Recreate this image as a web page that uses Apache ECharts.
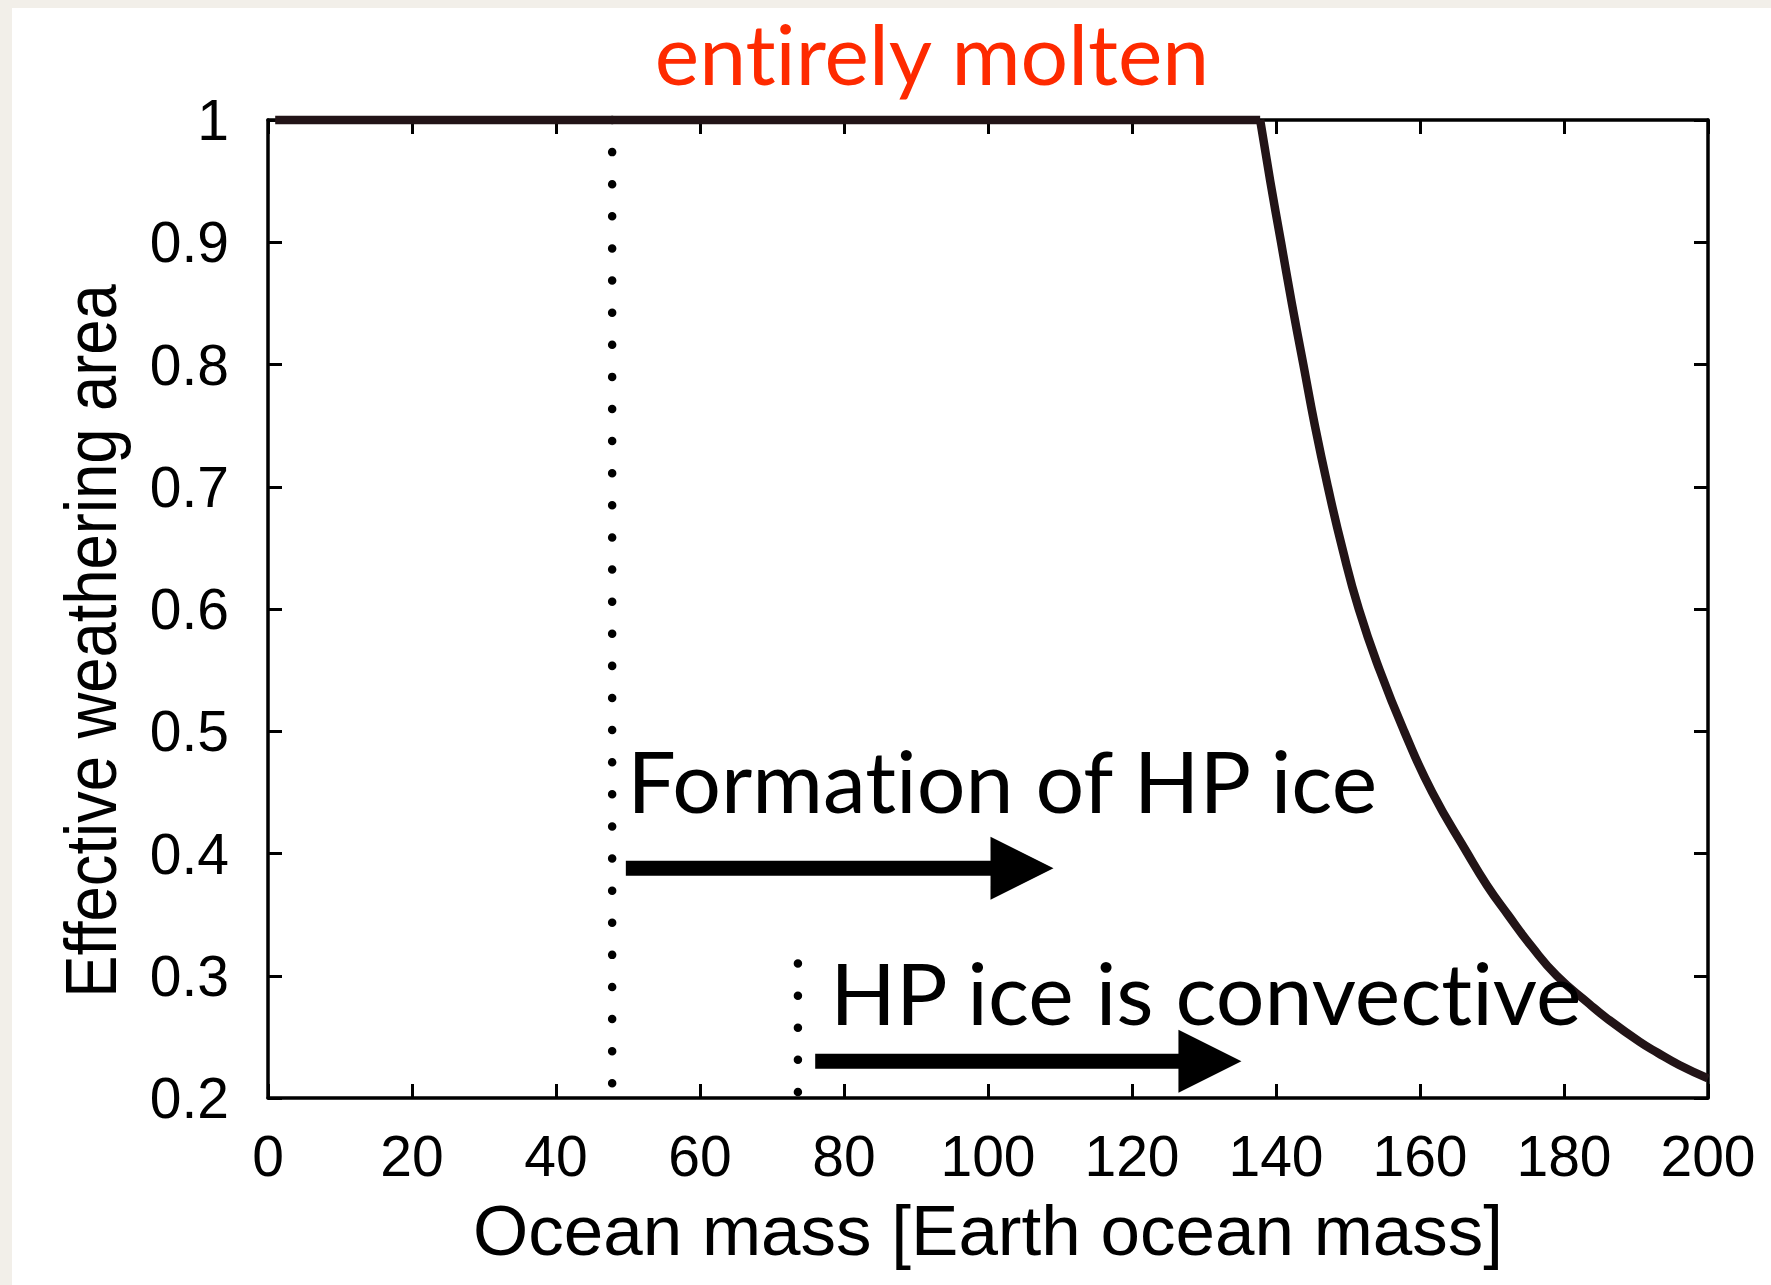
<!DOCTYPE html>
<html>
<head>
<meta charset="utf-8">
<script src="https://cdn.jsdelivr.net/npm/echarts@6/dist/echarts.min.js"></script>
<style>
html,body{margin:0;padding:0;background:#f2efe9;}
#chart{width:1771px;height:1285px;}
#chart text{font-variant-ligatures:none;font-feature-settings:"liga" 0, "clig" 0;}
</style>
</head>
<body>
<div id="chart"></div>
<script>
// ---- data ----
const xTicks = [0, 20, 40, 60, 80, 100, 120, 140, 160, 180, 200];
const yTicks = [0.2, 0.3, 0.4, 0.5, 0.6, 0.7, 0.8, 0.9, 1];
const yStep = 0.1;

// flat part of the curve (entirely molten)
const flatX = [1, 137.8];
const flatY = [1, 1];
// declining part
const curveX = [137.8, 139.2, 140.7, 142.2, 143.8, 145.4, 147.2, 149.2, 151.5, 154.4, 157.8, 161.7, 166.6, 169.3, 172.2, 175.5, 179.0, 183.5, 186.0, 190.5, 193.0, 196.0, 200.0];
const curveY = [1.000, 0.950, 0.900, 0.850, 0.800, 0.750, 0.700, 0.650, 0.600, 0.550, 0.500, 0.450, 0.400, 0.374, 0.350, 0.324, 0.300, 0.277, 0.265, 0.246, 0.237, 0.227, 0.216];

// dotted vertical markers
const markerX = [47.8, 73.6];
const markerTop = [1.0, 0.310];
const markerBottom = [0.211, 0.204];

// arrows
const arrowStartX = [49.7, 76.0];
const arrowTipX = [109.1, 135.2];
const arrowY = [0.388, 0.230];

// annotation labels (left edge x, baseline y)
const labelTexts = ['Formation of HP ice', 'HP ice is convective'];
const labelX = [49.9, 78.1];
const labelY = [0.433, 0.260];

const topTitle = 'entirely molten';
const xTitle = 'Ocean mass [Earth ocean mass]';
const yTitle = 'Effective weathering area';

// ---- chart ----
const chart = echarts.init(document.getElementById('chart'), null, {renderer: 'svg'});
const titleFont = 84;
const annFont = 86;
const tickFont = "'Liberation Sans', Arial, Helvetica, sans-serif";

const axisCommon = {
  type: 'value',
  axisLine: {show: true, onZero: false, lineStyle: {color: '#000', width: 3.5}},
  axisTick: {show: true, inside: true, length: 14, lineStyle: {color: '#000', width: 3}},
  splitLine: {show: false}
};

const series = [
  {
    type: 'line', name: 'flat', xAxisIndex: 0, yAxisIndex: 0,
    data: flatX.map((x, i) => [x, flatY[i]]),
    showSymbol: false, symbol: 'none', clip: false,
    lineStyle: {color: '#221417', width: 8.5, cap: 'butt'}, z: 5
  },
  {
    type: 'line', name: 'curve', xAxisIndex: 0, yAxisIndex: 0,
    data: curveX.map((x, i) => [x, curveY[i]]),
    showSymbol: false, symbol: 'none', clip: false,
    smooth: 0.5,
    lineStyle: {color: '#221417', width: 8.5, join: 'round'}, z: 5
  }
];

markerX.forEach((x, i) => {
  series.push({
    type: 'line', xAxisIndex: 0, yAxisIndex: 0,
    data: [[x, markerTop[i]], [x, markerBottom[i]]],
    showSymbol: false, symbol: 'none', clip: false,
    lineStyle: {color: '#000', width: 8.5, type: [0.01, 32.1], cap: 'round'}, z: 4
  });
});

series.push({
  type: 'custom', coordinateSystem: 'cartesian2d', xAxisIndex: 0, yAxisIndex: 0, clip: false,
  data: arrowStartX.map((s, i) => [s, arrowTipX[i], arrowY[i]]),
  encode: {x: [0, 1], y: 2},
  renderItem: function (params, api) {
    const p0 = api.coord([api.value(0), api.value(2)]);
    const p1 = api.coord([api.value(1), api.value(2)]);
    const headL = 63, headH = 63, shaft = 15;
    return {
      type: 'group',
      children: [
        {type: 'rect', shape: {x: p0[0], y: p0[1] - shaft / 2, width: p1[0] - headL - p0[0] + 1, height: shaft}, style: {fill: '#000'}},
        {type: 'polygon', shape: {points: [[p1[0] - headL, p1[1] - headH / 2], [p1[0], p1[1]], [p1[0] - headL, p1[1] + headH / 2]]}, style: {fill: '#000'}}
      ]
    };
  },
  z: 6
});

series.push({
  type: 'custom', coordinateSystem: 'cartesian2d', xAxisIndex: 0, yAxisIndex: 0, clip: false,
  data: labelX.map((x, i) => [x, labelY[i]]),
  encode: {x: 0, y: 1},
  renderItem: function (params, api) {
    const p = api.coord([api.value(0), api.value(1)]);
    return {
      type: 'text',
      x: p[0], y: p[1] - 0.387 * annFont,
      style: {
        text: labelTexts[params.dataIndex],
        fontFamily: 'Lato', fontSize: annFont, fill: '#000',
        align: 'left', verticalAlign: 'middle'
      }
    };
  },
  z: 7
});

const yTitleFont = 72;
const option = {
  backgroundColor: '#f2efe9',
  animation: false,
  graphic: [
    {
      type: 'rect', left: 12, top: 8, z: -100, silent: true,
      shape: {width: 1771, height: 1285}, style: {fill: '#ffffff'}
    },
    {
      type: 'text', x: 91, y: 641, rotation: Math.PI / 2, scaleX: 0.88, scaleY: 1, z: 10, silent: true,
      style: {text: yTitle, fontFamily: tickFont, fontSize: yTitleFont, fill: '#000', align: 'center', verticalAlign: 'middle'}
    }
  ],
  title: {
    text: topTitle, left: 932, top: 10.5, textAlign: 'center', padding: 0,
    textStyle: {fontFamily: 'Lato', fontSize: titleFont, fontWeight: 'normal', color: '#fe2a00'}
  },
  grid: {left: 268, right: 63, top: 120, bottom: 187, containLabel: false},
  xAxis: [
    Object.assign({}, axisCommon, {
      position: 'bottom', min: xTicks[0], max: xTicks[xTicks.length - 1], interval: xTicks[1] - xTicks[0],
      axisLabel: {show: true, fontFamily: tickFont, fontSize: 57, color: '#000', margin: 29, showMinLabel: true, showMaxLabel: true, hideOverlap: false},
      name: xTitle, nameLocation: 'middle', nameGap: 97,
      nameTextStyle: {fontFamily: tickFont, fontSize: 71, color: '#000'}
    }),
    Object.assign({}, axisCommon, {
      position: 'top', min: xTicks[0], max: xTicks[xTicks.length - 1], interval: xTicks[1] - xTicks[0],
      axisLabel: {show: false}
    })
  ],
  yAxis: [
    Object.assign({}, axisCommon, {
      position: 'left', min: yTicks[0], max: yTicks[yTicks.length - 1], interval: yStep,
      axisLabel: {
        show: true, fontFamily: tickFont, fontSize: 57, color: '#000', margin: 39, showMinLabel: true, showMaxLabel: true, hideOverlap: false,
        formatter: function (v) {
          const r = Math.round(v * 10) / 10;
          const hit = yTicks.find(t => Math.abs(t - r) < 1e-9);
          return hit === undefined ? '' : (hit === 1 ? '1' : hit.toFixed(1));
        }
      }
    }),
    Object.assign({}, axisCommon, {
      position: 'right', min: yTicks[0], max: yTicks[yTicks.length - 1], interval: yStep,
      axisLabel: {show: false}
    })
  ],
  series: series
};

chart.setOption(option);
</script>
</body>
</html>
